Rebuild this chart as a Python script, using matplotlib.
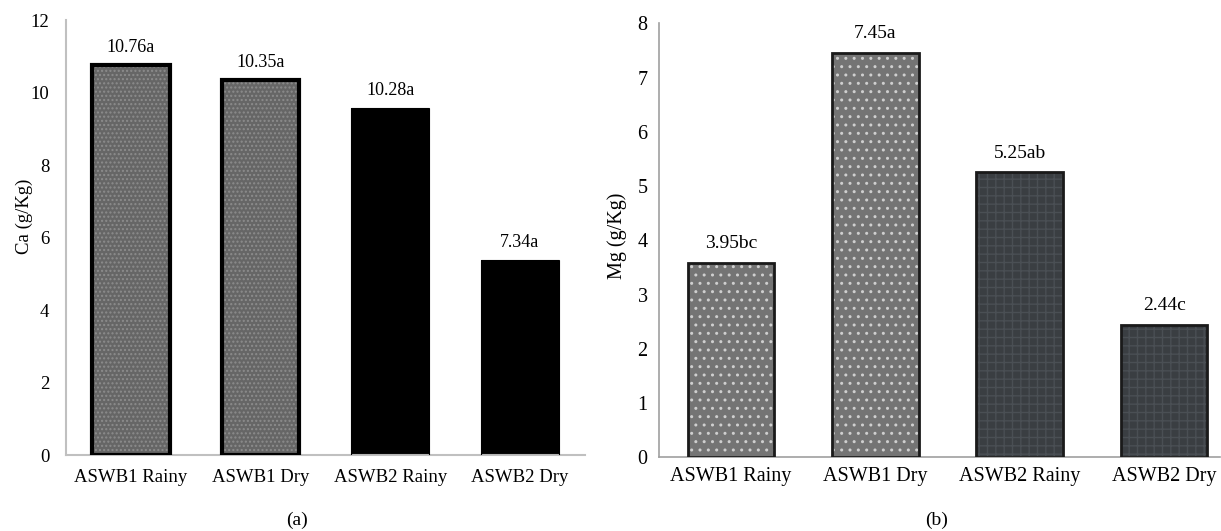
import matplotlib
matplotlib.use("Agg")
import matplotlib.pyplot as plt

categories = ["ASWB1 Rainy", "ASWB1 Dry", "ASWB2 Rainy", "ASWB2 Dry"]
ca_values = [10.76, 10.35, 9.57, 5.38]
ca_labels = ["10.76a", "10.35a", "10.28a", "7.34a"]
mg_values = [3.59, 7.45, 5.25, 2.44]
mg_labels = ["3.95bc", "7.45a", "5.25ab", "2.44c"]

plt.rcParams['font.family'] = ['Liberation Serif', 'DejaVu Serif']

fig = plt.figure(figsize=(12.21, 5.31), dpi=100)
axa = fig.add_axes([0.054, 0.143, 0.425, 0.819])
axb = fig.add_axes([0.5395, 0.139, 0.460, 0.817])

x = list(range(len(categories)))

# panel (a)
fa = ["#666666", "#666666", "#000000", "#000000"]
ha = ["....", "....", None, None]
for i in x:
    axa.bar(i, ca_values[i], 0.6, color=fa[i], edgecolor="#8c8c8c" if ha[i] else fa[i],
            hatch=ha[i], linewidth=0, zorder=2)
    lw = 3 if ha[i] else 0.8
    axa.bar(i, ca_values[i], 0.6, fill=False, edgecolor="#000000", linewidth=lw, zorder=3)
    axa.text(i, ca_values[i] + 0.25, ca_labels[i], ha="center", va="bottom", fontsize=13)
axa.set_ylim(0, 12)
axa.set_xlim(-0.5, 3.5)
axa.set_yticks(range(0, 13, 2))
axa.set_xticks(x)
axa.set_xticklabels(categories, fontsize=13.5)
axa.tick_params(axis="y", labelsize=13.5, length=0, pad=12)
axa.tick_params(axis="x", length=0, pad=10)
axa.set_ylabel("Ca (g/Kg)", fontsize=13.5)
axa.yaxis.set_label_coords(-0.064, 0.55)
for s in ["top", "right"]:
    axa.spines[s].set_visible(False)
for s in ["left", "bottom"]:
    axa.spines[s].set_color("#c0c0c0")
    axa.spines[s].set_linewidth(1.5)

# panel (b)
fb = ["#747474", "#747474", "#3a3e42", "#3a3e42"]
hb = ["..", "..", "++", "++"]
hcol = ["#cfcfcf", "#cfcfcf", "#4a4f54", "#4a4f54"]
for i in x:
    axb.bar(i, mg_values[i], 0.6, color=fb[i], edgecolor=hcol[i], hatch=hb[i],
            linewidth=0, zorder=2)
    axb.bar(i, mg_values[i], 0.6, fill=False, edgecolor="#1a1a1a", linewidth=2, zorder=3)
    axb.text(i, mg_values[i] + 0.2, mg_labels[i], ha="center", va="bottom", fontsize=14)
axb.set_ylim(0, 8)
axb.set_xlim(-0.5, 3.39)
axb.set_yticks(range(0, 9))
axb.set_xticks(x)
axb.set_xticklabels(categories, fontsize=14.5)
axb.tick_params(axis="y", labelsize=14.5, length=0, pad=8)
axb.tick_params(axis="x", length=0, pad=7)
axb.set_ylabel("Mg (g/Kg)", fontsize=14.5)
axb.yaxis.set_label_coords(-0.057, 0.51)
for s in ["top", "right"]:
    axb.spines[s].set_visible(False)
for s in ["left", "bottom"]:
    axb.spines[s].set_color("#a0a0a0")
    axb.spines[s].set_linewidth(1.2)

fig.text(297 / 1221, 1 - 520 / 531, "(a)", ha="center", va="center", fontsize=14)
fig.text(937 / 1221, 1 - 520 / 531, "(b)", ha="center", va="center", fontsize=14)

fig.savefig("out.png", dpi=100)
